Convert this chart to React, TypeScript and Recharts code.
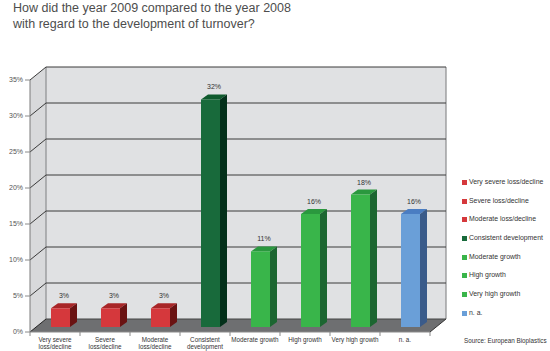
import React from 'react';
import { BarChart, Bar, XAxis, YAxis, ReferenceArea, LabelList, Legend } from 'recharts';

const categories = [
  'Very severe loss/decline',
  'Severe loss/decline',
  'Moderate loss/decline',
  'Consistent development',
  'Moderate growth',
  'High growth',
  'Very high growth',
  'n. a.',
];
const categoryTickLines = [
  ['Very severe', 'loss/decline'],
  ['Severe', 'loss/decline'],
  ['Moderate', 'loss/decline'],
  ['Consistent', 'development'],
  ['Moderate growth'],
  ['High growth'],
  ['Very high growth'],
  ['n. a.'],
];
const shares = [2.6, 2.6, 2.6, 31.6, 10.5, 15.7, 18.4, 15.7];
const valueLabels = ['3%', '3%', '3%', '32%', '11%', '16%', '18%', '16%'];
const yTicks = [0, 5, 10, 15, 20, 25, 30, 35];
const frontColors = ['#d5383c', '#d5383c', '#d5383c', '#186a3b', '#39b54a', '#39b54a', '#39b54a', '#6a9fd8'];
const topColors = ['#a82628', '#a82628', '#a82628', '#0f5a2d', '#2a983e', '#2a983e', '#2a983e', '#4a7dc2'];
const sideColors = ['#6a1212', '#6a1212', '#6a1212', '#03301a', '#1c6631', '#1c6631', '#1c6631', '#3a5b8a'];
const titleLines = ['How did the year 2009 compared to the year 2008', 'with regard to the development of turnover?'];
const sourceText = 'Source: European Bioplastics';

const data = categories.map((name, i) => ({ name, value: shares[i], label: valueLabels[i] }));
const bands = yTicks.slice(0, -1).map((v, i) => [v, yTicks[i + 1]]);

// 3D geometry (style)
const DX = 16;
const DY = 13;
const BX = 5;
const BY = 5;
const BDX = 7;
const BDY = 5;
const W = 550;
const H = 351;
const M = { top: 80, right: 120, bottom: 0, left: 0 };
const PLOT_W = W - 30 - M.right;

const WallShape = (p: any) => {
  const { x, y, width: w, height: h } = p;
  const yb = y + h;
  return (
    <g>
      <polygon points={`${x},${yb} ${x},${y} ${x + DX},${y - DY} ${x + DX},${yb - DY}`} fill="#d8d9db" />
      <rect x={x + DX} y={y - DY} width={w} height={h} fill="#e0e1e3" />
      <line x1={x + DX} y1={y - DY} x2={x + DX} y2={yb - DY} stroke="#7d7e80" strokeWidth={1} />
      <line x1={x + w + DX} y1={y - DY} x2={x + w + DX} y2={yb - DY} stroke="#8a8b8d" strokeWidth={1.2} />
      <polygon
        points={`${x},${yb} ${x + DX},${yb - DY} ${x + w + DX},${yb - DY} ${x + w},${yb}`}
        fill="#6e6f71"
      />
      <line x1={x} y1={yb} x2={x + DX} y2={yb - DY} stroke="#222" strokeWidth={1} />
      <line x1={x + w} y1={yb} x2={x + w + DX} y2={yb - DY} stroke="#333" strokeWidth={1} />
      <line x1={x + DX} y1={yb - DY} x2={x + w + DX} y2={yb - DY} stroke="#444" strokeWidth={1} />
    </g>
  );
};

const GridShape = (p: any) => {
  const { x, y, width: w } = p;
  return (
    <polyline
      points={`${x},${y} ${x + DX},${y - DY} ${x + w + DX},${y - DY}`}
      fill="none"
      stroke="#3a3a3a"
      strokeWidth={1}
    />
  );
};

const BoxShape = (p: any) => {
  const { x, y, width: w, height: h, index } = p;
  const fx = x + BX;
  const ft = y - BY;
  const fb = y + h - BY;
  return (
    <g>
      <polygon
        points={`${fx},${ft} ${fx + BDX},${ft - BDY} ${fx + w + BDX},${ft - BDY} ${fx + w},${ft}`}
        fill={topColors[index]}
      />
      <polygon
        points={`${fx + w},${ft} ${fx + w + BDX},${ft - BDY} ${fx + w + BDX},${fb - BDY} ${fx + w},${fb}`}
        fill={sideColors[index]}
      />
      <rect x={fx} y={ft} width={w} height={h} fill={frontColors[index]} />
    </g>
  );
};

const ValueLabel = (p: any) => {
  const { x, y, width: w, value } = p;
  return (
    <text x={x + BX + (w + BDX) / 2} y={y - 15} textAnchor="middle" fontSize={7} fill="#333">
      {value}
    </text>
  );
};

const XTick = (p: any) => {
  const { x, y, index } = p;
  const half = PLOT_W / categories.length / 2;
  const lines = categoryTickLines[index] || [];
  return (
    <g>
      <line x1={x - half} y1={y} x2={x - half} y2={y + 4} stroke="#8a8a8a" />
      {index === categories.length - 1 && (
        <line x1={x + half} y1={y} x2={x + half} y2={y + 4} stroke="#8a8a8a" />
      )}
      {lines.map((t, i) => (
        <text key={i} x={x} y={y + 10 + i * 7} textAnchor="middle" fontSize={6.3} fill="#333">
          {t}
        </text>
      ))}
    </g>
  );
};

const LegendContent = () => (
  <div style={{ fontSize: 6.9, color: '#333', lineHeight: '18.7px' }}>
    {categories.map((c, i) => (
      <div key={c} style={{ height: 18.7, whiteSpace: 'nowrap', display: 'flex', alignItems: 'center' }}>
        <span
          style={{ display: 'inline-block', width: 5, height: 5, background: frontColors[i], marginRight: 2 }}
        />
        <span>{c}</span>
      </div>
    ))}
  </div>
);

export default function App() {
  return (
    <div
      style={{
        position: 'absolute',
        left: 0,
        top: 0,
        width: W,
        height: H,
        background: '#fff',
        fontFamily: '"Liberation Sans", Arial, Helvetica, sans-serif',
      }}
    >
      <div
        style={{
          position: 'absolute',
          left: 13,
          top: 0,
          fontSize: 12.5,
          lineHeight: '16px',
          color: '#4d4d4d',
          whiteSpace: 'nowrap',
        }}
      >
        {titleLines.map((t) => (
          <div key={t}>{t}</div>
        ))}
      </div>
      <BarChart width={W} height={H} data={data} margin={M} barSize={19}>
        <XAxis
          dataKey="name"
          height={19}
          tickSize={0}
          tickMargin={0}
          interval={0}
          axisLine={{ stroke: '#8a8a8a' }}
          tickLine={false}
          tick={<XTick />}
        />
        <YAxis
          domain={[0, 35]}
          ticks={yTicks}
          width={30}
          interval={0}
          tickSize={5}
          tickMargin={2}
          tickFormatter={(v: number) => `${v}%`}
          tick={{ fontSize: 7, fill: '#555' }}
          axisLine={{ stroke: '#7a7a7a' }}
          tickLine={{ stroke: '#8a8a8a' }}
        />
        <ReferenceArea y1={0} y2={35} shape={<WallShape />} ifOverflow="visible" />
        {bands.map(([a, b]) => (
          <ReferenceArea key={b} y1={a} y2={b} shape={<GridShape />} ifOverflow="visible" />
        ))}
        <Legend
          layout="horizontal"
          verticalAlign="middle"
          align="center"
          wrapperStyle={{ position: 'absolute', left: 462, top: 173, width: 90, height: 160 }}
          content={<LegendContent />}
        />
        <Bar dataKey="value" shape={<BoxShape />} isAnimationActive={false}>
          <LabelList dataKey="label" content={<ValueLabel />} />
        </Bar>
      </BarChart>
      <div style={{ position: 'absolute', left: 464, top: 337, fontSize: 6.3, color: '#333', whiteSpace: 'nowrap' }}>
        {sourceText}
      </div>
    </div>
  );
}
